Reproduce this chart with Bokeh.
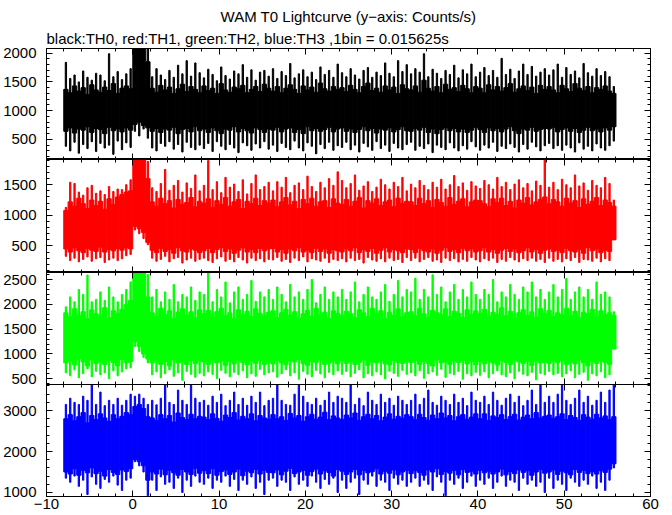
import numpy as np
from bokeh.plotting import figure
from bokeh.layouts import column
from bokeh.models import Range1d, LinearAxis, Title, SingleIntervalTicker, CustomJSTickFormatter
from bokeh.embed import file_html
from bokeh.resources import INLINE

FONT = "Liberation Sans"
FS = "15px"

TITLE = "WAM T0 Lightcurve (y\u2212axis: Counts/s)"
SUBTITLE = "black:TH0, red:TH1, green:TH2, blue:TH3 ,1bin = 0.015625s"

T_START = -8.0      # first bin of the light curve (s)
STEP = 0.5          # every value below summarises the 1-bin curve over 0.5 s

X_RANGE = (-10, 60)
X_MAJOR = 10

# For each channel, per 0.5 s: the dense band (bot..top) and the extreme spikes (lo..hi).
# ---------------- TH0 (black) ----------------
th0_top = [1370,1310,1430,1340,1400,1280,1450,1360, 1320,1410,1350,1470,1300,1390,1430,1380,
           2081,2081,2081,1850,1390,1320,1440,1360, 1410,1300,1380,1460,1330,1420,1370,1310,
           1430,1350,1390,1300,1470,1360,1320,1410, 1380,1440,1310,1370,1420,1330,1460,1390,
           1340,1420,1310,1390,1450,1370,1300,1430, 1360,1410,1320,1480,1380,1340,1420,1370,
           1400,1330,1440,1370,1310,1420,1480,1350, 1390,1320,1430,1360,1410,1300,1450,1380,
           1360,1430,1320,1530,1390,1340,1420,1310, 1460,1370,1400,1330,1440,1380,1310,1420,
           1390,1310,1450,1360,1420,1340,1400,1470, 1320,1380,1430,1350,1410,1300,1440,1370,
           1420,1360,1310,1440,1380,1330,1470,1390, 1350,1420,1310,1400,1370,1430,1340,1300]
th0_bot = [640,700,610,680,660,720,620,690, 670,600,710,650,680,630,700,660,
           760,800,740,700,640,690,620,680, 660,710,600,670,690,630,720,650,
           680,620,700,650,600,680,660,720, 630,690,650,610,700,670,620,680,
           660,710,630,680,700,620,670,600, 720,650,690,640,670,710,630,680,
           700,640,680,620,670,720,650,690, 610,680,660,700,630,670,720,650,
           640,690,660,710,620,680,600,670, 700,650,690,630,680,620,660,710,
           670,620,700,650,690,630,680,720, 650,600,680,660,710,640,670,690,
           680,710,630,670,700,640,690,620, 660,710,650,680,630,700,660,720]
th0_hi = [1840,1560,1620,1500,1690,1580,1530,1650, 1620,1520,1990,1590,1680,1540,1640,1730,
          2100,2100,2100,2100,1590,1730,1620,1540, 1700,1580,1790,1640,1870,1600,1830,1660,
          1570,1720,1630,1520,1760,1610,1550,1690, 1640,1800,1580,1710,1530,1670,1700,1600,
          1730,1560,1680,1610,1820,1570,1640,1710, 1590,1670,1540,1760,1630,1700,1580,1810,
          1660,1590,1730,1620,1550,1700,1750,1580, 1670,1610,1830,1650,1590,1870,1680,1800,
          1640,1730,1670,1990,1590,1720,1650,1560, 1700,1630,1790,1570,1710,1640,1810,1590,
          1670,1750,1610,1700,1580,1910,1630,1720, 1560,1690,1810,1630,1770,1600,1670,1730,
          1620,1710,1810,1580,1750,1630,1690,1570, 1820,1660,1600,1730,1610,1680,1590,1420]
th0_lo = [380,300,450,260,410,340,460,290, 430,350,400,240,470,320,440,360,
          640,560,680,520,350,300,430,380, 460,330,410,280,450,360,320,400,
          340,430,290,460,380,320,410,350, 270,440,390,310,420,350,460,330,
          400,290,430,360,320,470,350,300, 440,380,250,410,340,450,310,390,
          360,450,320,400,280,430,370,310, 460,340,400,290,430,350,320,410,
          450,310,380,340,420,270,400,360, 320,440,350,300,390,330,460,370,
          310,400,350,450,290,380,340,420, 360,280,410,330,450,370,300,390,
          430,340,390,310,400,350,280,440, 330,380,300,420,350,310,390,470]

# ---------------- TH1 (red) ----------------
th1_top = [1080,1220,1150,1280,1190,1110,1250,1160, 1230,1100,1270,1180,1300,1340,1380,1400,
           1912,1912,1912,1600,1220,1150,1280,1190, 1240,1120,1260,1180,1210,1290,1140,1230,
           1200,1270,1130,1240,1180,1290,1150,1220, 1260,1110,1230,1190,1280,1160,1240,1200,
           1250,1140,1220,1290,1170,1230,1110,1260, 1190,1280,1150,1220,1240,1130,1270,1200,
           1180,1260,1150,1230,1290,1120,1240,1200, 1270,1160,1220,1250,1140,1280,1190,1230,
           1220,1160,1280,1190,1240,1130,1260,1210, 1150,1290,1180,1230,1270,1140,1220,1250,
           1240,1190,1140,1270,1210,1280,1160,1230, 1120,1250,1200,1290,1170,1220,1260,1300,
           1190,1260,1220,1150,1280,1200,1240,1130, 1270,1180,1230,1290,1160,1250,1210,1150]
th1_bot = [450,400,470,420,390,460,430,410, 480,400,440,420,460,430,470,450,
           820,780,720,560,430,390,460,410, 440,380,470,420,400,450,430,390,
           420,460,390,440,470,410,450,380, 430,470,400,440,390,460,420,450,
           460,400,440,380,450,420,470,400, 430,390,460,410,450,380,440,420,
           400,450,420,470,390,440,410,460, 380,430,470,400,440,420,390,450,
           440,390,460,420,400,450,380,430, 470,410,440,390,460,420,450,400,
           420,470,400,440,380,430,460,410, 450,390,420,470,400,440,380,430,
           450,410,430,390,460,420,400,440, 380,470,420,450,390,430,410,600]
th1_hi = [1130,1540,1520,1380,1330,1450,1490,1360, 1400,1340,1470,1390,1430,1420,1500,1580,
          1912,1912,1912,1880,1450,1390,1520,1750, 1410,1490,1570,1380,1530,1440,1660,1400,
          1490,1895,1420,1550,1370,1620,1460,1510, 1390,1580,1350,1520,1660,1420,1470,1540,
          1400,1550,1460,1620,1370,1490,1530,1420, 1640,1470,1390,1540,1450,1600,1490,1710,
          1570,1450,1520,1660,1410,1480,1550,1390, 1460,1590,1500,1430,1540,1470,1620,1400,
          1510,1450,1570,1490,1420,1540,1460,1590, 1430,1500,1650,1470,1530,1410,1550,1480,
          1440,1570,1500,1430,1620,1470,1540,1420, 1510,1580,1450,1520,1400,1560,1490,1912,
          1460,1540,1420,1590,1500,1450,1660,1480, 1530,1410,1570,1490,1450,1620,1520,1250]
th1_lo = [330,260,300,240,280,320,250,290, 310,230,270,300,260,290,340,360,
          760,700,620,520,300,250,280,330, 240,290,310,220,270,300,250,280,
          300,260,230,290,320,250,280,240, 310,270,220,300,260,290,240,280,
          270,310,250,280,230,300,260,320, 240,290,270,250,300,230,280,260,
          290,240,300,260,280,220,310,270, 250,290,240,300,260,280,230,310,
          260,300,240,280,310,250,270,230, 300,260,290,240,280,250,310,270,
          240,290,260,300,230,280,250,310, 270,240,290,260,300,250,280,230,
          300,250,280,240,290,260,310,230, 280,270,250,300,240,290,260,600]

# ---------------- TH2 (green) ----------------
th2_top = [1830,1750,1910,1780,1850,1710,1890,1810, 1770,1930,1730,1870,1820,1900,2000,2080,
           2641,2641,2641,2150,1830,1760,1920,1790, 1870,1720,1840,1910,1780,1850,1730,1890,
           1810,1880,1740,1850,1920,1770,1830,1710, 1890,1790,1860,1750,1910,1820,1770,1840,
           1870,1730,1830,1900,1780,1850,1720,1810, 1880,1760,1920,1790,1840,1710,1870,1820,
           1780,1860,1810,1730,1890,1830,1750,1920, 1800,1870,1720,1840,1780,1910,1750,1830,
           1850,1770,1920,1810,1740,1880,1830,1790, 1910,1750,1860,1820,1730,1890,1800,1870,
           1820,1900,1750,1840,1790,1930,1770,1860, 1720,1830,1890,1780,1850,1740,1910,1810,
           1880,1750,1830,1790,1920,1770,1860,1730, 1840,1810,1900,1750,1870,1790,1830,1780]
th2_bot = [820,860,780,900,840,760,880,810, 850,790,870,830,760,890,820,850,
           1250,1150,1000,900,820,870,790,850, 760,880,820,840,790,870,810,860,
           840,790,880,820,860,770,850,800, 890,830,780,860,810,870,790,840,
           800,870,820,780,860,840,890,810, 770,850,830,880,790,820,860,800,
           860,810,850,790,830,880,770,840, 820,860,800,780,870,830,810,850,
           830,870,790,850,810,760,880,820, 840,790,860,830,870,800,850,780,
           850,800,860,820,780,870,830,790, 880,840,810,850,770,860,820,830,
           810,860,830,870,790,840,800,880, 820,760,850,810,860,830,790,1100]
th2_hi = [1950,2150,2050,2300,2200,2590,2050,2100, 2250,2080,2350,2150,2050,2200,2300,2450,
          2641,2641,2641,2600,2150,2300,2050,2250, 2100,2400,2050,2200,2150,2350,2080,2250,
          2200,2640,2050,2300,2150,2450,2030,2250, 2350,2100,2200,2480,2060,2250,2150,2300,
          2100,2350,2200,2050,2400,2150,2250,2100, 2300,2500,2030,2200,2350,2100,2250,2150,
          2300,2100,2250,2450,2050,2200,2350,2150, 2100,2250,2400,2060,2200,2480,2150,2300,
          2250,2526,2100,2300,2150,2594,2200,2350, 2050,2250,2400,2100,2300,2150,2450,2200,
          2100,2300,2200,2500,2050,2250,2150,2400, 2200,2100,2350,2250,2450,2150,2300,2100,
          2250,2400,2150,2300,2520,2100,2250,2350, 2150,2300,2100,2450,2200,2250,2150,1850]
th2_lo = [620,560,680,520,600,700,540,650, 580,620,500,660,560,640,700,720,
          1150,1050,930,820,580,640,520,600, 680,550,620,470,650,590,530,610,
          560,640,590,500,670,610,540,630, 580,660,520,600,550,690,580,620,
          640,530,600,680,560,620,490,650, 590,540,670,600,520,630,580,660,
          590,650,540,610,680,520,600,560, 640,580,500,650,610,550,670,590,
          620,560,660,510,600,640,570,690, 530,610,580,650,490,600,560,630,
          570,640,520,600,660,580,540,620, 500,650,590,560,630,480,610,580,
          650,580,610,540,600,660,520,590, 630,470,600,560,640,520,580,1100]

# ---------------- TH3 (blue) ----------------
th3_top = [2800,2900,2750,2850,2950,2700,2880,2780, 2920,2820,2740,2900,2800,2860,2950,2900,
           3100,3150,3050,2850,2820,2760,2900,2800, 2880,2720,2940,2830,2780,2910,2800,2860,
           2840,2780,2920,2810,2740,2890,2830,2950, 2770,2860,2800,2920,2750,2880,2820,2790,
           2900,2800,2850,2760,2930,2820,2880,2740, 2850,2910,2790,2840,2960,2780,2870,2820,
           2780,2890,2820,2940,2760,2850,2910,2800, 2880,2750,2840,2920,2790,2860,2810,2900,
           2850,2780,2910,2830,2760,2890,2800,2940, 2820,2880,2750,2850,2900,2790,2840,2920,
           2800,2920,2760,2870,2830,2900,2780,2850, 2910,2770,2840,2890,2800,2950,2820,2860,
           2890,2810,2850,2920,2780,2880,2830,2760, 2900,2840,2790,2910,2820,2870,2780,2850]
th3_bot = [1500,1450,1580,1420,1540,1480,1600,1460, 1520,1400,1560,1490,1440,1550,1510,1580,
           1800,1750,1650,1300,1500,1450,1570,1430, 1540,1480,1420,1560,1500,1440,1590,1470,
           1530,1460,1580,1420,1510,1550,1440,1500, 1570,1410,1520,1480,1560,1450,1540,1490,
           1480,1550,1430,1520,1590,1460,1500,1540, 1420,1510,1570,1450,1530,1490,1400,1560,
           1520,1440,1500,1560,1430,1540,1480,1510, 1580,1450,1520,1470,1550,1430,1500,1540,
           1460,1530,1490,1420,1550,1500,1580,1440, 1510,1470,1540,1430,1560,1490,1520,1450,
           1540,1480,1520,1450,1500,1570,1430,1510, 1460,1550,1490,1530,1420,1500,1560,1470,
           1500,1550,1440,1520,1480,1430,1560,1490, 1540,1460,1510,1450,1530,1490,1570,1700]
th3_hi = [3150,3300,3200,3150,3350,3250,3636,3150, 3450,3120,3250,3150,3300,3130,3250,3400,
          3350,3400,3300,3150,3250,3140,3300,3636, 3200,3150,3500,3250,3150,3636,3300,3200,
          3250,3130,3350,3200,3400,3120,3250,3450, 3150,3300,3130,3350,3200,3450,3120,3250,
          3300,3636,3250,3150,3130,3400,3636,3350, 3200,3150,3300,3130,3250,3450,3200,3350,
          3300,3200,3636,3150,3300,3120,3450,3250, 3150,3400,3200,3300,3130,3350,3250,3150,
          3250,3400,3150,3300,3500,3200,3130,3350, 3250,3150,3400,3200,3300,3120,3450,3250,
          3200,3350,3150,3450,3250,3130,3300,3400, 3200,3350,3120,3250,3500,3150,3636,3200,
          3350,3200,3400,3636,3250,3150,3300,3500, 3200,3350,3130,3250,3450,3200,3500,3636]
th3_lo = [1350,1250,1400,1150,1300,950,1380,1200, 1100,1320,1250,1400,1180,1050,1300,1350,
          1750,1650,1500,920,1300,1050,1380,1200, 1250,1100,1350,1000,1300,1150,1400,1250,
          1200,1350,1100,1300,1250,1400,1150,1320, 1050,1300,1200,1380,1100,1250,950,1300,
          1350,1150,1300,1250,1050,1380,1200,1300, 1150,1400,1250,1100,1320,1200,1350,1000,
          1300,1100,1250,1350,950,1300,1200,1400, 1150,1300,1250,1050,1350,1200,1300,1150,
          1250,1350,1150,1300,1200,1050,1380,1250, 920,1300,1200,1350,1100,1250,1400,1150,
          1300,1200,1350,1100,1250,1400,1150,1300, 1250,1050,1350,1200,1300,1150,1250,1000,
          1350,1100,1300,1200,1050,1350,1250,1150, 1300,1200,1400,1100,1250,1050,1300,1600]

panels = [
    # band top/bot, spikes hi/lo, colour, y-range, y major interval
    (th0_top, th0_bot, th0_hi, th0_lo, "#000000", (150, 2081), 500),
    (th1_top, th1_bot, th1_hi, th1_lo, "#ff0000", (66, 1912), 500),
    (th2_top, th2_bot, th2_hi, th2_lo, "#00ff00", (385, 2641), 500),
    (th3_top, th3_bot, th3_hi, th3_lo, "#0000ff", (902, 3636), 1000),
]

FIG_W = 664
FRAME_L = 45
FRAME_R = 650
frame_heights = [111, 113, 112, 112]
TOP_BORDER = 48
BOTTOM_BORDER = 19
SPILL = 3   # room under panel 3 for its lowest tick label; panel 4 overlaps it

x_range = Range1d(*X_RANGE)


def style_axis(ax, labeled, x_axis=False):
    ax.axis_line_color = "black"
    ax.axis_line_width = 1
    ax.major_tick_line_color = "black"
    ax.minor_tick_line_color = "black"
    ax.major_tick_in = 6
    ax.major_tick_out = 0
    ax.minor_tick_in = 3
    ax.minor_tick_out = 0
    if labeled:
        ax.major_label_text_font = FONT
        ax.major_label_text_font_size = FS
        ax.major_label_text_color = "black"
        ax.major_label_standoff = 2 if x_axis else 10
        if x_axis:
            ax.formatter = CustomJSTickFormatter(
                code="return tick < 0 ? '\\u2212' + (-tick) : '' + tick;")
    else:
        ax.formatter = CustomJSTickFormatter(code="return '';")
        ax.major_label_text_font_size = "0px"
        ax.major_label_standoff = 0


figs = []
for k, (top, bot, hi, lo, colour, yr, ymaj) in enumerate(panels):
    first = k == 0
    last = k == len(panels) - 1
    tb = TOP_BORDER if first else 0
    bb = BOTTOM_BORDER if last else (SPILL if k == 2 else 0)
    p = figure(width=FIG_W, height=tb + frame_heights[k] + bb,
               x_range=x_range, y_range=Range1d(*yr),
               x_axis_type=None, y_axis_type=None, title=None,
               output_backend="svg", toolbar_location=None,
               min_border_left=FRAME_L, min_border_right=FIG_W - FRAME_R,
               min_border_top=tb, min_border_bottom=bb)
    if last:
        p.margin = (-SPILL, 0, 0, 0)
    p.outline_line_color = "black"
    p.outline_line_width = 1
    p.background_fill_color = "white"
    p.border_fill_color = "white"

    xt = SingleIntervalTicker(interval=X_MAJOR, num_minor_ticks=5)
    yt = SingleIntervalTicker(interval=ymaj, num_minor_ticks=5)
    for loc in ("left", "right", "above", "below"):
        is_y = loc in ("left", "right")
        ax = LinearAxis(ticker=yt if is_y else xt)
        labeled = (loc == "left") or (loc == "below" and last)
        style_axis(ax, labeled, x_axis=not is_y)
        p.add_layout(ax, loc)

    centers = T_START + STEP * (np.arange(len(top)) + 0.5)
    p.vbar(x=centers, width=STEP, bottom=bot, top=top,
           fill_color=colour, line_color=colour, line_width=1)
    p.vbar(x=centers, width=0.15, bottom=lo, top=hi,
           fill_color=colour, line_color=colour, line_width=1)

    if first:
        p.add_layout(Title(text=SUBTITLE, align="left", text_font=FONT,
                           text_font_size=FS, text_font_style="normal",
                           text_color="black", standoff=4), "above")
        p.add_layout(Title(text=TITLE, align="center", text_font=FONT,
                           text_font_size=FS, text_font_style="normal",
                           text_color="black", standoff=1), "above")
    figs.append(p)

layout = column(*figs, spacing=0)

open("out.html", "w").write(file_html(layout, INLINE))
